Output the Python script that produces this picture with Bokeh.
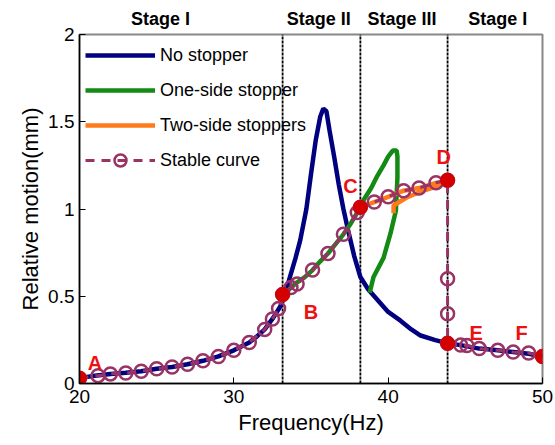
from bokeh.plotting import figure
from bokeh.models import Range1d, FixedTicker, Legend, LegendItem, ColumnDataSource, LinearAxis
from bokeh.core.properties import value
from bokeh.embed import file_html
from bokeh.resources import INLINE

FONT = "Liberation Sans"

# No stopper
blue_x = [20, 21, 22, 23, 24, 25, 26, 27, 28, 29, 30, 31, 31.5, 32, 32.5, 33, 33.3, 33.6, 34.0, 34.3, 34.7,
          35.0, 35.3, 35.6, 35.8, 36.0, 36.2, 36.5, 36.8, 37.1, 37.4, 37.8, 38.2, 38.7, 39.3, 40.0, 40.8,
          41.5, 42.1, 43.0, 43.85, 44.7, 45.9, 47.1, 48.1, 49.1, 50]
blue_y = [0.03, 0.045, 0.055, 0.062, 0.07, 0.085, 0.095, 0.11, 0.13, 0.155, 0.19, 0.235, 0.27, 0.31, 0.37,
          0.44, 0.50, 0.60, 0.72, 0.82, 1.00, 1.20, 1.39, 1.53, 1.575, 1.56, 1.45, 1.30, 1.14, 1.00, 0.88,
          0.73, 0.61, 0.54, 0.48, 0.41, 0.36, 0.31, 0.275, 0.25, 0.23, 0.22, 0.20, 0.19, 0.18, 0.17, 0.155]

# One-side stopper
green_x = [33.2, 33.7, 34.1, 34.6, 35.1, 35.6, 36.1, 36.6, 37.1, 37.6, 38.0, 38.4, 38.9, 39.3, 39.7, 40.0,
           40.3, 40.55, 40.6, 40.6, 40.5, 40.15, 39.7, 39.05, 38.8]
green_y = [0.50, 0.55, 0.58, 0.61, 0.65, 0.70, 0.745, 0.80, 0.855, 0.92, 0.98, 1.05, 1.12, 1.19, 1.25, 1.30,
           1.335, 1.335, 1.30, 1.18, 0.99, 0.86, 0.72, 0.61, 0.52]

# Two-side stoppers
orange_x = [38.2, 39.1, 40.0, 41.0, 42.0, 43.1, 43.85, 43.4, 42.3, 41.2, 40.35, 40.35]
orange_y = [1.01, 1.04, 1.07, 1.105, 1.12, 1.15, 1.165, 1.135, 1.106, 1.066, 1.02, 0.975]

# Stable curve
stable_x = [20, 21.2, 22, 23, 24, 25, 26, 27, 28, 29, 30, 31, 32, 32.5, 32.9, 33.16, 33.7, 34.1, 35.1, 36.1,
            37.1, 38.0, 38.2, 39.1, 40.0, 41.0, 42.0, 43.1, 43.85, 43.85, 43.85, 43.85, 44.7, 45.1, 45.9,
            47.1, 48.1, 49.1, 50]
stable_y = [0.03, 0.045, 0.055, 0.06, 0.07, 0.085, 0.095, 0.11, 0.13, 0.155, 0.19, 0.235, 0.31, 0.37, 0.43,
            0.51, 0.55, 0.57, 0.65, 0.745, 0.855, 0.98, 1.01, 1.04, 1.07, 1.105, 1.12, 1.15, 1.165, 0.60,
            0.40, 0.23, 0.22, 0.218, 0.20, 0.19, 0.18, 0.175, 0.155]

# Key points
key_x = [20, 33.16, 38.2, 43.85, 43.85, 50]
key_y = [0.03, 0.51, 1.01, 1.165, 0.23, 0.155]
key_labels = ["A", "B", "C", "D", "E", "F"]
key_label_x = [21.0, 35.0, 37.55, 43.6, 45.7, 48.65]
key_label_y = [0.12, 0.41, 1.13, 1.30, 0.29, 0.29]

stage_names = ["Stage I", "Stage II", "Stage III", "Stage I"]
stage_x = [25.25, 35.5, 40.9, 47.1]
boundaries = [33.16, 38.2, 43.85]

x_ticks = [20, 30, 40, 50]
y_ticks = [0, 0.5, 1, 1.5, 2]
y_tick_labels = ["0", "0.5", "1", "1.5", "2"]

p = figure(width=555, height=445, output_backend="svg", toolbar_location=None,
           x_range=Range1d(20, 50), y_range=Range1d(0, 2))
p.min_border_left = 79
p.min_border_right = 13
p.min_border_top = 34
p.min_border_bottom = 62
p.xgrid.visible = False
p.ygrid.visible = False
p.outline_line_color = "#888888"
p.outline_line_width = 2
p.background_fill_color = "white"
p.border_fill_color = "white"

for ax in (p.xaxis[0], p.yaxis[0]):
    ax.axis_line_color = "black"
    ax.axis_line_width = 1.5
    ax.major_tick_in = 6
    ax.major_tick_out = 0
    ax.minor_tick_line_color = None
    ax.major_tick_line_color = "black"
    ax.major_label_text_font = FONT
    ax.major_label_text_font_size = "19px"
    ax.major_label_text_color = "black"
    ax.axis_label_text_font = FONT
    ax.axis_label_text_font_size = "22px"
    ax.axis_label_text_font_style = "normal"
    ax.axis_label_text_color = "black"

p.xaxis.ticker = FixedTicker(ticks=x_ticks)
p.yaxis.ticker = FixedTicker(ticks=y_ticks)
p.yaxis.major_label_overrides = {t: s for t, s in zip(y_ticks, y_tick_labels)}
p.xaxis.axis_label = "Frequency(Hz)"
p.yaxis.axis_label = "Relative motion(mm)"
p.xaxis.major_label_standoff = 6
p.xaxis.axis_label_standoff = 4
p.yaxis.major_label_standoff = 5
p.yaxis.axis_label_standoff = 2

# stage names as an axis above the frame
top_axis = LinearAxis(ticker=FixedTicker(ticks=stage_x),
                      major_label_overrides={sx: n for sx, n in zip(stage_x, stage_names)})
top_axis.axis_line_color = None
top_axis.major_tick_line_color = None
top_axis.minor_tick_line_color = None
top_axis.major_label_standoff = 0
top_axis.major_label_text_font = FONT
top_axis.major_label_text_font_size = "18px"
top_axis.major_label_text_font_style = "bold"
top_axis.major_label_text_color = "black"
p.add_layout(top_axis, "above")

# stage boundaries
for b in boundaries:
    p.line([b, b], [0, 2], line_color="black", line_width=1.8, line_dash="3 1")

r_blue = p.line(blue_x, blue_y, line_color="#000080", line_width=4.5)
r_green = p.line(green_x, green_y, line_color="#138a13", line_width=4.5)
r_orange = p.line(orange_x, orange_y, line_color="#ff7a1a", line_width=4.5)
r_sl = p.line(stable_x, stable_y, line_color="#993366", line_width=3, line_dash="9 7")
r_sm = p.scatter(stable_x, stable_y, marker="circle", size=13, line_color="#993366",
                 line_width=2.5, fill_color=None)

p.scatter(key_x, key_y, marker="circle", size=14, fill_color="#d40000", line_color="#d40000")

src = ColumnDataSource(dict(x=key_label_x, y=key_label_y, t=key_labels))
p.text(x="x", y="y", text="t", source=src, text_color="#ee1111", text_font=value(FONT),
       text_font_size="20px", text_font_style="bold", text_align="center", text_baseline="middle")

legend = Legend(items=[
    LegendItem(label="No stopper", renderers=[r_blue]),
    LegendItem(label="One-side stopper", renderers=[r_green]),
    LegendItem(label="Two-side stoppers", renderers=[r_orange]),
    LegendItem(label="Stable curve", renderers=[r_sl, r_sm]),
], location="top_left")
legend.border_line_color = None
legend.background_fill_alpha = 0
legend.label_text_font = FONT
legend.label_text_font_size = "18px"
legend.label_text_color = "black"
legend.glyph_width = 70
legend.glyph_height = 30
legend.spacing = 5
legend.margin = 6
legend.padding = 2
legend.label_standoff = 5
p.add_layout(legend)

open("out.html", "w").write(file_html(p, INLINE))
